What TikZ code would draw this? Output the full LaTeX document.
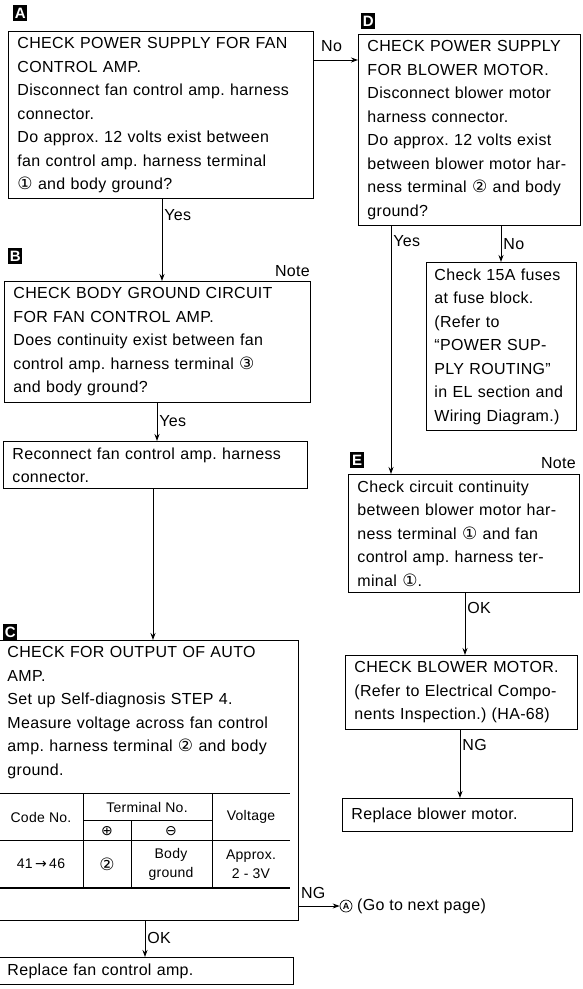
\documentclass[tikz,border=0pt]{standalone}
\usepackage{fontspec}
\setmainfont{Liberation Sans}[LetterSpace=2]
\newfontfamily\symfont{DejaVu Sans}
\usepackage{tikz}
\usetikzlibrary{arrows.meta}

\newcommand{\boxfont}{\fontsize{16}{23.5}\selectfont\frenchspacing}
\newcommand{\tabfont}{\fontsize{14}{19}\selectfont}
\newcommand{\tagfont}{\fontsize{15}{15}\selectfont\bfseries}
\newcommand{\cnum}[1]{{\symfont\fontsize{17}{17}\selectfont #1}}

\tikzset{
  box/.style={draw, line width=0.9pt, anchor=north west, align=left,
    inner xsep=9pt, inner ysep=6pt, font=\boxfont},
  tag/.style={fill=black, text=white, anchor=north west, inner sep=0pt,
    minimum width=14pt, minimum height=16pt, font=\tagfont},
  flow/.style={line width=0.9pt, -{Stealth[length=7pt,width=5pt]}},
  lbl/.style={font=\boxfont, inner sep=2pt},
  cell/.style={font=\tabfont, align=center, inner sep=0pt},
  rule/.style={line width=0.9pt},
}

\begin{document}
\begin{tikzpicture}[x=1pt,y=-1pt]
\useasboundingbox (0,0) rectangle (582,989);
% left column:
\node[tag] (tagA) at (13,5) {A};
\node[box, text width=287pt] (chkA) at (8,31) {CHECK POWER SUPPLY FOR FAN\\CONTROL AMP.\\Disconnect fan control amp. harness\\connector.\\Do approx. 12 volts exist between\\fan control amp. harness terminal\\\cnum{①} and body ground?};
\node[tag] (tagB) at (8,248) {B};
\node[lbl, anchor=south east] (noteB) at (312,279) {Note};
\node[box, text width=288pt] (chkB) at (4,281) {CHECK BODY GROUND CIRCUIT\\FOR FAN CONTROL AMP.\\Does continuity exist between fan\\control amp. harness terminal \cnum{③}\\and body ground?};
\node[box, text width=286pt] (reconn) at (3,441) {Reconnect fan control amp. harness\\connector.};
\node[tag] (tagC) at (3,624) {C};
\node[draw, line width=0.9pt, anchor=north west, inner sep=0pt,
  minimum width=300pt, minimum height=280pt] (chkC) at (-2,640) {};
\node[box, draw=none, text width=282pt] (txtC) at (chkC.north west) {CHECK FOR OUTPUT OF AUTO\\AMP.\\Set up Self-diagnosis STEP 4.\\Measure voltage across fan control\\amp. harness terminal \cnum{②} and body\\ground.};
% table inside C:
\draw[rule] (-2,793) -- (290,793);
\draw[rule] (-2,840) -- (290,840);
\draw[line width=1.3pt] (-2,888) -- (290,888);
\draw[rule] (83,820) -- (212,820);
\draw[rule] (83,793) -- (83,888) (212,793) -- (212,888) (131,820) -- (131,888);
\node[cell] (codeNo) at (41,817) {Code No.};
\node[cell] (termNo) at (147,807) {Terminal No.};
\node[cell] (termPos) at (107,831) {{\symfont ⊕}};
\node[cell] (termNeg) at (171,831) {{\symfont ⊖}};
\node[cell] (volt) at (251,817) {Voltage};
\node[cell] (codeVal) at (41,864) {41\,{\symfont→}\,46};
\node[cell] (posVal) at (107,864) {\cnum{②}};
\node[cell] (negVal) at (171,864) {Body\\ground};
\node[cell] (voltVal) at (251,864) {Approx.\\2 - 3V};
\node[circle, draw, line width=0.7pt, inner sep=0pt, minimum size=12pt,
  font=\fontsize{9}{9}\selectfont\bfseries] (circA) at (346,906) {A};
\node[lbl, anchor=west] (goA) at (355,906) {(Go to next page)};
\node[box, text width=277pt] (repFan) at (-2,957) {Replace fan control amp.};
% right column:
\node[tag] (tagD) at (361,13) {D};
\node[box, text width=204pt] (chkD) at (358,34) {CHECK POWER SUPPLY\\FOR BLOWER MOTOR.\\Disconnect blower motor\\harness connector.\\Do approx. 12 volts exist\\between blower motor har-\\ness terminal \cnum{②} and body\\ground?};
\node[box, text width=134pt, inner xsep=8pt] (fuses) at (426,262) {Check 15A fuses\\at fuse block.\\(Refer to\\``POWER SUP-\\PLY ROUTING''\\in EL section and\\Wiring Diagram.)};
\node[tag] (tagE) at (350,452) {E};
\node[lbl, anchor=south east] (noteE) at (578,471) {Note};
\node[box, text width=213pt] (chkE) at (348,474) {Check circuit continuity\\between blower motor har-\\ness terminal \cnum{①} and fan\\control amp. harness ter-\\minal \cnum{①}.};
\node[box, text width=214pt] (chkM) at (345,655) {CHECK BLOWER MOTOR.\\(Refer to Electrical Compo-\\nents Inspection.) (HA-68)};
\node[box, text width=212pt, inner ysep=9pt] (repMot) at (342,798) {Replace blower motor.};
% connectors:
\coordinate (yNo) at (0,60);
\coordinate (xAB) at (162,0);
\coordinate (xBR) at (157,0);
\coordinate (xRC) at (153,0);
\coordinate (xCF) at (145,0);
\coordinate (xDE) at (391,0);
\coordinate (xDF) at (501,0);
\coordinate (xEM) at (465,0);
\coordinate (xMW) at (460,0);
\draw[flow] (chkA.east |- yNo) -- node[lbl, anchor=south, pos=0.4, yshift=6pt] {No} (chkD.west |- yNo);
\draw[flow] (chkA.south -| xAB) -- node[lbl, anchor=west, pos=0.19] {Yes} (chkB.north -| xAB);
\draw[flow] (chkB.south -| xBR) -- node[lbl, anchor=west, pos=0.49] {Yes} (reconn.north -| xBR);
\draw[flow] (reconn.south -| xRC) -- (chkC.north -| xRC);
\draw[flow] (chkC.south -| xCF) -- node[lbl, anchor=west, pos=0.46] {OK} (repFan.north -| xCF);
\draw[flow] (chkC.east |- circA) -- node[lbl, anchor=south, pos=0.35, yshift=5pt] {NG} (circA.west);
\draw[flow] (chkD.south -| xDE) -- node[lbl, anchor=west, pos=0.06] {Yes} (chkE.north -| xDE);
\draw[flow] (chkD.south -| xDF) -- node[lbl, anchor=west, pos=0.5] {No} (fuses.north -| xDF);
\draw[flow] (chkE.south -| xEM) -- node[lbl, anchor=west, pos=0.25] {OK} (chkM.north -| xEM);
\draw[flow] (chkM.south -| xMW) -- node[lbl, anchor=west, pos=0.23] {NG} (repMot.north -| xMW);
\end{tikzpicture}
\end{document}
